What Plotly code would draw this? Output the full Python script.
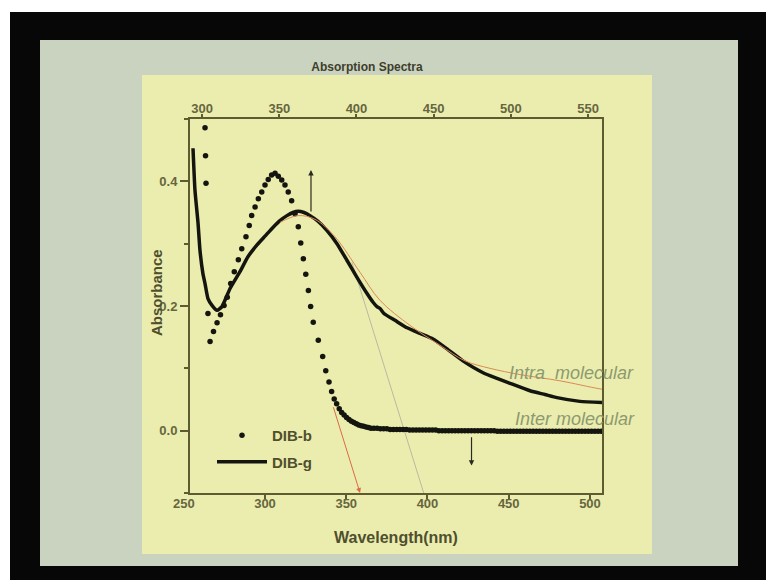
import plotly.graph_objects as go

# ---------------- data ----------------
# DIB-b : dotted spectrum (wavelength nm, absorbance)
wl_b = [263.1, 263.4, 263.7, 264.9, 266.2, 268.3, 270.5, 272.6, 274.8, 276.8,
        278.9, 281.1, 283.6, 285.7, 288.3, 290.3, 291.8, 293.9, 295.9, 298.0,
        300.0, 302.0, 304.1, 306.2, 308.2, 310.3, 312.3, 314.3, 316.4, 318.5,
        320.5, 322.0, 323.6, 325.1, 326.7, 328.1, 329.7, 332.8, 335.5, 337.4,
        339.4, 341.0, 342.6, 344.1, 345.7, 347.2, 348.7, 350.2, 351.7, 353.2,
        354.7, 356.2, 357.7, 359.2, 360.7, 362.2, 363.7, 365.2,
        367, 369, 371, 373, 375, 377, 379, 381, 383, 385, 387, 389, 391, 393,
        395, 397, 399, 401, 403, 405, 407, 409, 411, 413, 415, 417, 419, 421,
        423, 425, 427, 429, 431, 433, 435, 437, 439, 441, 443, 445, 447, 449,
        451, 453, 455, 457, 459, 461, 463, 465, 467, 469, 471, 473, 475, 477,
        479, 481, 483, 485, 487, 489, 491, 493, 495, 497, 499, 501, 503, 505,
        507]
abs_b = [0.486, 0.441, 0.397, 0.188, 0.143, 0.159, 0.173, 0.186, 0.201, 0.214,
         0.236, 0.255, 0.274, 0.292, 0.311, 0.329, 0.345, 0.359, 0.372, 0.383,
         0.394, 0.403, 0.410, 0.413, 0.408, 0.402, 0.394, 0.383, 0.369, 0.348,
         0.327, 0.301, 0.276, 0.251, 0.225, 0.199, 0.174, 0.145, 0.119, 0.096,
         0.078, 0.063, 0.051, 0.043, 0.035, 0.029, 0.025, 0.021, 0.018, 0.015,
         0.013, 0.011, 0.009, 0.008, 0.007, 0.006, 0.005, 0.004,
         0.004, 0.004, 0.003, 0.003, 0.003, 0.002, 0.002, 0.002, 0.002, 0.002,
         0.002, 0.001, 0.001, 0.001, 0.001, 0.001, 0.001, 0.001, 0.001, 0.001,
         0.000, 0.000, 0.000, 0.000, 0.000, 0.000, 0.000, 0.000, 0.000, 0.000,
         0.000, 0.000, 0.000, 0.000, 0.000, 0.000, 0.000, 0.000, -0.001, -0.001,
         -0.001, -0.001, -0.001, -0.001, -0.001, -0.001, -0.001, -0.001, -0.001,
         -0.001, -0.001, -0.001, -0.001, -0.001, -0.001, -0.001, -0.001, -0.001,
         -0.001, -0.001, -0.001, -0.001, -0.001, -0.001, -0.001, -0.001, -0.001,
         -0.001, -0.001, -0.001, -0.001]

# DIB-g : solid spectrum
wl_g = [255.7, 256.9, 258.8, 260.0, 261.8, 263.1, 264.9, 267.4, 270.5, 273.5,
        278.5, 284.6, 289.5, 295.1, 300.0, 304.9, 309.2, 313.5, 317.2, 320.3,
        324.0, 327.7, 332.6, 338.2, 344.3, 350.5, 356.6, 362.8, 366.5, 368.9,
        370.8, 373.2, 380.0, 387.4, 395.4, 403.4, 412.6, 421.8, 434.2, 442.8,
        450.8, 463.1, 472.3, 479.7, 493.8, 508.0]
abs_g = [0.453, 0.386, 0.333, 0.289, 0.252, 0.236, 0.212, 0.201, 0.193, 0.199,
         0.228, 0.255, 0.279, 0.298, 0.312, 0.326, 0.337, 0.345, 0.350, 0.352,
         0.350, 0.345, 0.336, 0.321, 0.300, 0.273, 0.246, 0.220, 0.206, 0.199,
         0.196, 0.188, 0.177, 0.165, 0.156, 0.147, 0.130, 0.112, 0.093, 0.084,
         0.076, 0.064, 0.058, 0.053, 0.047, 0.045]

# hand-drawn fit curve (orange) and tangent line (grey)
wl_fit = [309.2, 320.3, 330.8, 343.1, 358.5, 370.8, 389.2, 407.7, 423.1, 438.5,
          456.9, 481.5, 506.2, 516.6]
abs_fit = [0.334, 0.345, 0.339, 0.311, 0.254, 0.209, 0.169, 0.137, 0.112, 0.100,
           0.090, 0.080, 0.067, 0.063]
wl_tan = [353.5, 397.8]
abs_tan = [0.270, -0.101]

bottom_ticks = [300, 350, 400, 450, 500]
top_ticks = [300, 350, 400, 450, 500, 550]
y_ticks = [0.0, 0.2, 0.4]

# ---------------- layout geometry ----------------
L, R, T, B = 190, 602, 119, 493
W, H = R - L, B - T


def px_x(p):
    return (p - L) / W


def px_y(p):
    return (B - p) / H


AXC = "#5c5c30"
TICKC = "#66663e"
FONT = "Arial, Liberation Sans, sans-serif"

fig = go.Figure()
fig.add_trace(go.Scatter(x=wl_tan, y=abs_tan, mode="lines",
                         line=dict(color="#b9b9a2", width=1), showlegend=False,
                         hoverinfo="skip"))
fig.add_trace(go.Scatter(x=wl_b, y=abs_b, mode="markers", name="DIB-b",
                         legendgroup="b",
                         marker=dict(color="#151510", size=5.5)))
fig.add_trace(go.Scatter(x=wl_g, y=abs_g, mode="lines", name="DIB-g",
                         legendgroup="g",
                         line=dict(color="#151510", width=3.5, shape="spline",
                                   smoothing=0.5)))
fig.add_trace(go.Scatter(x=wl_fit, y=abs_fit, mode="lines",
                         line=dict(color="#d98a55", width=1, shape="spline"),
                         showlegend=False, hoverinfo="skip"))
fig.add_trace(go.Scatter(x=[], y=[], xaxis="x2", showlegend=False))

shapes = [
    dict(type="rect", xref="paper", yref="paper", layer="below",
         x0=px_x(0), x1=px_x(766), y0=px_y(0), y1=px_y(12),
         fillcolor="white", line=dict(width=0)),
    dict(type="rect", xref="paper", yref="paper", layer="below",
         x0=px_x(0), x1=px_x(10), y0=px_y(0), y1=px_y(580),
         fillcolor="white", line=dict(width=0)),
    dict(type="rect", xref="paper", yref="paper", layer="below",
         x0=px_x(40), x1=px_x(738), y0=px_y(40), y1=px_y(566),
         fillcolor="#cad3c0", line=dict(width=0)),
    dict(type="rect", xref="paper", yref="paper", layer="below",
         x0=px_x(142), x1=px_x(652), y0=px_y(75), y1=px_y(554),
         fillcolor="#ebedae", line=dict(width=0)),
]

annotations = [
    # y axis title (overlaps tick labels as in the original)
    dict(text="Absorbance", xref="paper", yref="paper", x=px_x(156), y=px_y(293),
         showarrow=False, textangle=-90, xanchor="center", yanchor="middle",
         font=dict(family=FONT, size=15, color="#4f4f2e", weight="bold")),
    # 250 label at the axis corner
    dict(text="250", xref="paper", yref="paper", x=px_x(184), y=px_y(503),
         showarrow=False, xanchor="center", yanchor="middle",
         font=dict(family=FONT, size=13, color=TICKC, weight="bold")),
    dict(text="Intra  molecular", xref="x", yref="y", x=488.9, y=0.093,
         showarrow=False, xanchor="center", yanchor="middle",
         font=dict(family=FONT, size=18, color="#8d9a70", style="italic")),
    dict(text="Inter molecular", xref="x", yref="y", x=490.8, y=0.019,
         showarrow=False, xanchor="center", yanchor="middle",
         font=dict(family=FONT, size=18, color="#8d9a70", style="italic")),
    # arrows
    dict(text="", x=328.3, y=0.418, ax=328.3, ay=0.349, xref="x", yref="y",
         axref="x", ayref="y", showarrow=True, arrowhead=2, arrowsize=0.9,
         arrowwidth=1.2, arrowcolor="#2a2a20"),
    dict(text="", x=427.1, y=-0.056, ax=427.1, ay=-0.008, xref="x", yref="y",
         axref="x", ayref="y", showarrow=True, arrowhead=2, arrowsize=0.9,
         arrowwidth=1.2, arrowcolor="#2a2a20"),
    dict(text="", x=358.5, y=-0.100, ax=341.8, ay=0.040, xref="x", yref="y",
         axref="x", ayref="y", showarrow=True, arrowhead=2, arrowsize=1,
         arrowwidth=1, arrowcolor="#dc6a48"),
]

fig.update_layout(
    width=766, height=580,
    margin=dict(l=L, r=766 - R, t=T, b=580 - B),
    paper_bgcolor="#070707",
    plot_bgcolor="rgba(0,0,0,0)",
    shapes=shapes,
    annotations=annotations,
    title=dict(text="Absorption Spectra", x=367 / 766, y=1 - 67 / 580,
               xref="container", yref="container", xanchor="center",
               yanchor="middle",
               font=dict(family=FONT, size=12, color="#3e3e2c",
                         weight="bold")),
    xaxis=dict(range=[253.85, 507.4], tickvals=bottom_ticks,
               showgrid=False, zeroline=False, showline=True, linecolor=AXC,
               linewidth=2, ticks="outside", ticklen=4, tickwidth=1.5,
               tickcolor=AXC, ticklabelstandoff=-7,
               tickfont=dict(family=FONT, size=13, color=TICKC, weight="bold"),
               title=dict(text="Wavelength(nm)", standoff=22,
                          font=dict(family=FONT, size=16, color="#4f4f2e",
                                    weight="bold"))),
    xaxis2=dict(range=[292.2, 559.0], tickvals=top_ticks, overlaying="x",
                side="top", anchor="y", showgrid=False, zeroline=False,
                showline=True, linecolor=AXC, linewidth=2, ticks="outside",
                ticklen=3, tickwidth=1.5, tickcolor=AXC, ticklabelstandoff=-4,
                tickfont=dict(family=FONT, size=13, color=TICKC,
                              weight="bold")),
    yaxis=dict(range=[-0.1, 0.5], tickvals=y_ticks, tickformat=".1f",
               showgrid=False, zeroline=False, showline=True, mirror=True,
               linecolor=AXC, linewidth=2, ticks="outside", ticklen=8,
               tickwidth=1.5, tickcolor=AXC,
               minor=dict(dtick=0.1, ticks="outside", ticklen=4,
                          tickcolor=AXC),
               tickfont=dict(family=FONT, size=13, color=TICKC,
                             weight="bold")),
    legend=dict(x=px_x(212), y=px_y(419), xanchor="left", yanchor="top",
                bgcolor="rgba(0,0,0,0)", itemwidth=50, tracegroupgap=4,
                font=dict(family=FONT, size=15, color="#4f4f2e",
                          weight="bold")),
    showlegend=True,
)

fig.write_html("out.html")
